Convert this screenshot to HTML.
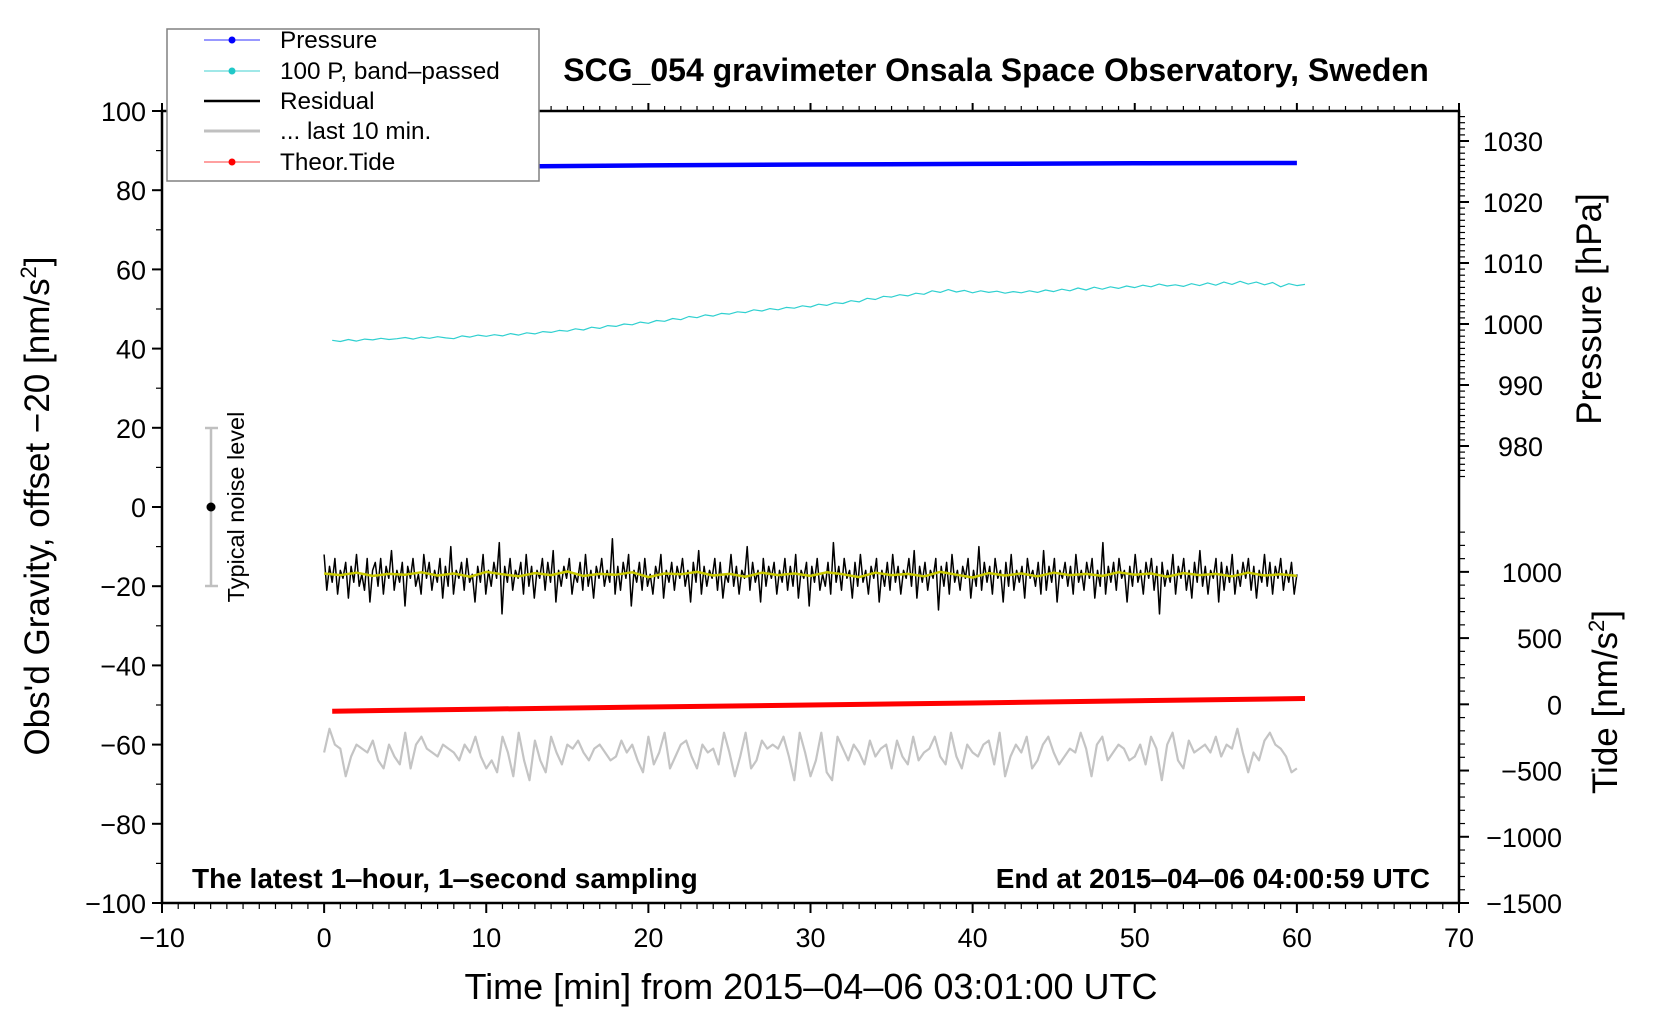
<!DOCTYPE html>
<html><head><meta charset="utf-8"><style>
html,body{margin:0;padding:0;background:#fff}
svg{display:block;font-family:"Liberation Sans",Arial,sans-serif}
</style></head><body>
<svg id="chart" width="1660" height="1020" viewBox="0 0 1660 1020">
<g id="grid"></g>
<g id="series"></g>
<rect x="162" y="111" width="1297" height="792" fill="none" stroke="#000" stroke-width="2.5"/>
<text x="996" y="81" font-size="32" font-weight="bold" text-anchor="middle">SCG_054 gravimeter Onsala Space Observatory, Sweden</text>
<text x="192" y="888" font-size="28" font-weight="bold">The latest 1‒hour, 1‒second sampling</text>
<text x="1430" y="888" font-size="28" font-weight="bold" text-anchor="end">End at 2015‒04‒06 04:00:59 UTC</text>
<text x="811" y="999" font-size="36" text-anchor="middle">Time [min] from 2015‒04‒06 03:01:00 UTC</text>
<text transform="translate(49,506) rotate(-90)" font-size="35" text-anchor="middle">Obs'd Gravity, offset −20 [nm/s<tspan font-size="22" dy="-13">2</tspan><tspan dy="13">]</tspan></text>
<text transform="translate(1601,309) rotate(-90)" font-size="35" text-anchor="middle">Pressure [hPa]</text>
<text transform="translate(1617,702) rotate(-90)" font-size="35" text-anchor="middle">Tide [nm/s<tspan font-size="22" dy="-13">2</tspan><tspan dy="13">]</tspan></text>
<g>
<line x1="211" y1="428" x2="211" y2="586" stroke="#c0c0c0" stroke-width="2.5"/>
<line x1="205" y1="428" x2="218" y2="428" stroke="#c0c0c0" stroke-width="2.5"/>
<line x1="205" y1="586" x2="218" y2="586" stroke="#c0c0c0" stroke-width="2.5"/>
<circle cx="211" cy="507" r="4.5" fill="#000"/>
<text transform="translate(244,507) rotate(-90)" font-size="23.5" text-anchor="middle">Typical noise level</text>
</g>
<g>
<rect x="167" y="29" width="372" height="152" fill="#fff" stroke="#808080" stroke-width="1.5"/>
<g><line x1="204" y1="40" x2="260" y2="40" stroke="#3030ff" stroke-width="1"/><circle cx="232" cy="40" r="3.5" fill="#0000ff"/><text x="280" y="48" font-size="24.3">Pressure</text></g>
<g><line x1="204" y1="71" x2="260" y2="71" stroke="#40d0d0" stroke-width="1"/><circle cx="232" cy="71" r="3.5" fill="#20c8c8"/><text x="280" y="79" font-size="24.3">100 P, band‒passed</text></g>
<g><line x1="204" y1="101" x2="260" y2="101" stroke="#000" stroke-width="2.5"/><text x="280" y="109" font-size="24.3">Residual</text></g>
<g><line x1="204" y1="131" x2="260" y2="131" stroke="#c0c0c0" stroke-width="3"/><text x="280" y="139" font-size="24.3">... last 10 min.</text></g>
<g><line x1="204" y1="162" x2="260" y2="162" stroke="#ff4040" stroke-width="1"/><circle cx="232" cy="162" r="3.5" fill="#ff0000"/><text x="280" y="170" font-size="24.3">Theor.Tide</text></g>
</g>
</svg>
<script>
// ---- data ----
const xTicks = [-10,0,10,20,30,40,50,60,70];
const yTicks = [100,80,60,40,20,0,-20,-40,-60,-80,-100];
const pTicks = [1030,1020,1010,1000,990,980];
const tideTicks = [1000,500,0,-500,-1000,-1500];
// pressure (hPa) every 10 min
const pressureTime = [0,10,20,30,40,50,60];
const pressureVals = [1025.6,1025.8,1026.0,1026.15,1026.25,1026.35,1026.4];
// tide (nm/s^2)
const tideTime = [0.5,10,20,30,40,50,60.5];
const tideVals = [-52,-36,-20,-5,10,27,44];
// band-passed pressure (gravity units), every 0.5 min from 0.5
const bandVals = [42.1,41.8,42.3,41.9,42.4,42.2,42.6,42.3,42.5,42.8,42.4,42.9,42.6,43.0,42.7,42.5,43.2,42.9,43.4,43.1,
43.5,43.2,43.8,43.4,44.0,43.7,44.3,44.1,44.6,44.4,45.0,44.7,45.4,45.1,45.8,45.6,46.2,46.0,46.7,46.4,
47.1,46.9,47.6,47.3,48.1,47.8,48.5,48.2,48.9,48.7,49.3,49.1,49.8,49.5,50.1,49.8,50.4,50.2,50.8,50.5,
51.2,50.9,51.6,51.4,52.1,51.8,52.7,52.4,53.2,53.0,53.6,53.3,54.0,53.7,54.6,54.2,54.9,54.3,54.7,54.1,
54.6,54.2,54.5,54.0,54.4,54.1,54.6,54.2,54.8,54.4,55.0,54.6,55.3,54.8,55.5,55.0,55.6,55.2,55.8,55.4,
56.0,55.6,56.3,55.8,56.1,55.7,56.4,55.9,56.6,56.0,56.8,56.2,57.0,56.3,56.8,56.1,56.7,55.6,56.4,55.9,56.2];
// residual (gravity units), every 10 s
const residVals = [-12,-21,-15,-19,-13,-22,-16,-18,-14,-23,-15,-19,-12,-20,-17,-21,-13,-24,-16,
-14,-20,-13,-22,-15,-18,-11,-21,-16,-19,-14,-25,-15,-18,-13,-20,-17,-22,-12,
-18,-14,-21,-16,-19,-13,-23,-15,-20,-10,-22,-16,-18,-14,-21,-13,-19,-17,-24,
-15,-19,-12,-22,-16,-20,-14,-18,-9,-27,-15,-19,-13,-21,-16,-18,-14,-22,-12,
-20,-15,-23,-16,-18,-13,-21,-14,-19,-11,-24,-16,-20,-15,-18,-13,-22,-17,-19,
-14,-21,-12,-20,-16,-23,-15,-18,-13,-20,-16,-19,-8,-22,-15,-21,-14,-18,-12,
-25,-16,-19,-14,-21,-13,-20,-17,-22,-15,-18,-12,-23,-16,-19,-14,-21,-15,-18,
-13,-20,-16,-24,-14,-19,-11,-22,-15,-20,-16,-18,-13,-21,-14,-23,-17,-19,-12,
-20,-15,-22,-16,-18,-10,-21,-14,-19,-16,-24,-13,-20,-15,-18,-14,-22,-16,-19,
-13,-21,-15,-20,-12,-23,-16,-18,-14,-25,-15,-19,-13,-21,-17,-20,-14,-22,-9,
-19,-15,-21,-13,-18,-16,-23,-14,-20,-12,-19,-16,-22,-15,-18,-13,-24,-16,-20,
-14,-21,-12,-19,-15,-22,-16,-18,-13,-20,-11,-23,-15,-19,-14,-21,-16,-18,-13,
-26,-15,-20,-14,-22,-12,-19,-16,-21,-15,-18,-13,-23,-16,-20,-10,-21,-14,-19,
-15,-22,-13,-18,-16,-24,-14,-20,-12,-21,-16,-19,-15,-23,-13,-18,-16,-20,-14,
-22,-11,-21,-15,-19,-13,-24,-16,-18,-14,-20,-15,-22,-12,-19,-16,-21,-14,-18,
-13,-23,-16,-20,-9,-22,-15,-19,-14,-21,-13,-18,-16,-24,-15,-20,-12,-19,-16,
-22,-14,-18,-13,-21,-15,-27,-14,-20,-16,-19,-12,-22,-15,-18,-13,-21,-16,-23,
-14,-19,-11,-20,-15,-22,-16,-18,-13,-24,-14,-21,-15,-19,-12,-22,-16,-20,-14,
-18,-13,-21,-15,-23,-16,-19,-12,-20,-14,-22,-15,-18,-13,-21,-16,-19,-14,-22,-17];
// smoothed residual, every 1 min
const smoothVals = [-16.8,-17.2,-16.6,-17.4,-16.9,-17.1,-16.5,-17.3,-16.8,-17.6,-16.4,-17.0,-17.5,-16.7,-17.2,-16.3,
-17.4,-16.9,-17.1,-16.5,-17.7,-16.8,-17.0,-16.4,-17.3,-16.9,-17.6,-16.6,-17.2,-16.8,-17.4,-16.5,-17.0,-17.7,
-16.6,-17.2,-16.9,-17.5,-16.4,-17.1,-17.8,-16.7,-17.3,-16.8,-17.5,-16.6,-17.2,-16.9,-17.4,-16.5,-17.1,-16.8,
-17.6,-16.7,-17.2,-16.9,-17.5,-16.6,-17.3,-17.0,-17.4];
// last 10 min residual, stretched over 60 min, every 20 s
const lastVals = [-62,-56,-60,-61,-68,-63,-60,-61,-62,-59,-64,-66,-60,-63,-65,-57,-66,-60,-58,-61,
-62,-63,-60,-61,-62,-64,-60,-62,-58,-63,-66,-64,-67,-58,-62,-68,-57,-64,-69,-59,
-64,-67,-58,-62,-65,-60,-61,-59,-62,-64,-61,-60,-62,-64,-63,-59,-62,-60,-64,-67,
-58,-65,-62,-57,-66,-63,-60,-59,-63,-66,-60,-62,-61,-65,-57,-62,-68,-63,-57,-66,
-64,-59,-61,-60,-61,-58,-63,-69,-57,-62,-68,-64,-57,-67,-69,-58,-61,-64,-60,-62,
-65,-59,-63,-61,-60,-66,-59,-63,-65,-58,-64,-62,-61,-58,-63,-65,-57,-63,-66,-60,
-62,-63,-60,-59,-65,-57,-68,-63,-60,-62,-58,-66,-64,-60,-58,-62,-65,-63,-61,-62,
-57,-61,-68,-60,-58,-64,-62,-60,-61,-64,-63,-60,-65,-58,-61,-69,-60,-57,-64,-66,
-59,-62,-61,-60,-62,-58,-63,-60,-61,-56,-62,-67,-62,-64,-59,-57,-60,-61,-63,-67,-66];

// ---- scales ----
const X0=162,X1=1459,Y0=111,Y1=903;
const xs = t => X0 + (t+10)/80*(X1-X0);
const ys = v => Y1 - (v+100)/200*(Y1-Y0);
const yp = p => 141 + (1030-p)*6.1;
const yt = t => 903 - (t+1500)*0.13245;
const NS='http://www.w3.org/2000/svg';
const grid=document.getElementById('grid'), series=document.getElementById('series');
function mk(tag,attrs,parent){const e=document.createElementNS(NS,tag);for(const k in attrs)e.setAttribute(k,attrs[k]);parent.appendChild(e);return e;}
function line(x1,y1,x2,y2,w,name){const l=mk('line',{x1,y1,x2,y2,stroke:'#000','stroke-width':w},grid);

}
function label(x,y,txt,anchor,name){const t=mk('text',{x,y,'font-size':27,'text-anchor':anchor},grid);t.textContent=txt.replace('-','\u2212');

}
for(let m=-10;m<=70;m+=1){const major=m%10===0;const x=xs(m);
 line(x,Y1,x,Y1+(major?10:6),major?2:1.2,'x-tick');
 line(x,Y0,x,Y0-(major?8:5),major?2:1.2,'x-top-tick');}
xTicks.forEach(v=>label(xs(v),947,String(v),'middle','x-tick-label'));
for(let v=-100;v<=100;v+=10){const major=v%20===0;line(X0,ys(v),X0-(major?10:6),ys(v),major?2:1.2,'y-tick');}
yTicks.forEach(v=>label(X0-16,ys(v)+10,String(v),'end','y-tick-label'));
for(let p=975;p<=1034;p+=1){const major=p%10===0;line(X1,yp(p),X1+(major?10:6),yp(p),major?2:1.2,'pressure-tick');}
pTicks.forEach(v=>label(1543,yp(v)+10,String(v),'end','pressure-tick-label'));
for(let t=-1500;t<=1300;t+=100){const major=t%500===0;line(X1,yt(t),X1+(major?10:6),yt(t),major?2:1.2,'tide-tick');}
tideTicks.forEach(v=>label(1562,yt(v)+10,String(v),'end','tide-tick-label'));

function poly(pts,stroke,w,name){const p=mk('polyline',{points:pts.map(a=>a[0].toFixed(1)+','+a[1].toFixed(1)).join(' '),fill:'none',stroke,'stroke-width':w,'stroke-linejoin':'round'},series);

}
poly(lastVals.map((v,i)=>[xs(i*60/(lastVals.length-1)),ys(v)]),'#c4c4c4',2.2,'last-10-min-line');
poly(tideVals.map((v,i)=>[xs(tideTime[i]),yt(v)]),'#ff0000',5,'theor-tide-line');
poly(residVals.map((v,i)=>[xs(i*60/(residVals.length-1)),ys(v)]),'#000',1.5,'residual-line');
poly(smoothVals.map((v,i)=>[xs(i*60/(smoothVals.length-1)),ys(v)]),'#c8c800',2.5,'residual-smoothed-line');
poly(bandVals.map((v,i)=>[xs(0.5+i*0.5),ys(v)]),'#30d0d0',1.2,'band-passed-pressure-line');
poly(pressureVals.map((v,i)=>[xs(pressureTime[i]),yp(v)]),'#0000ff',4.5,'pressure-line');
</script>
</body></html>
